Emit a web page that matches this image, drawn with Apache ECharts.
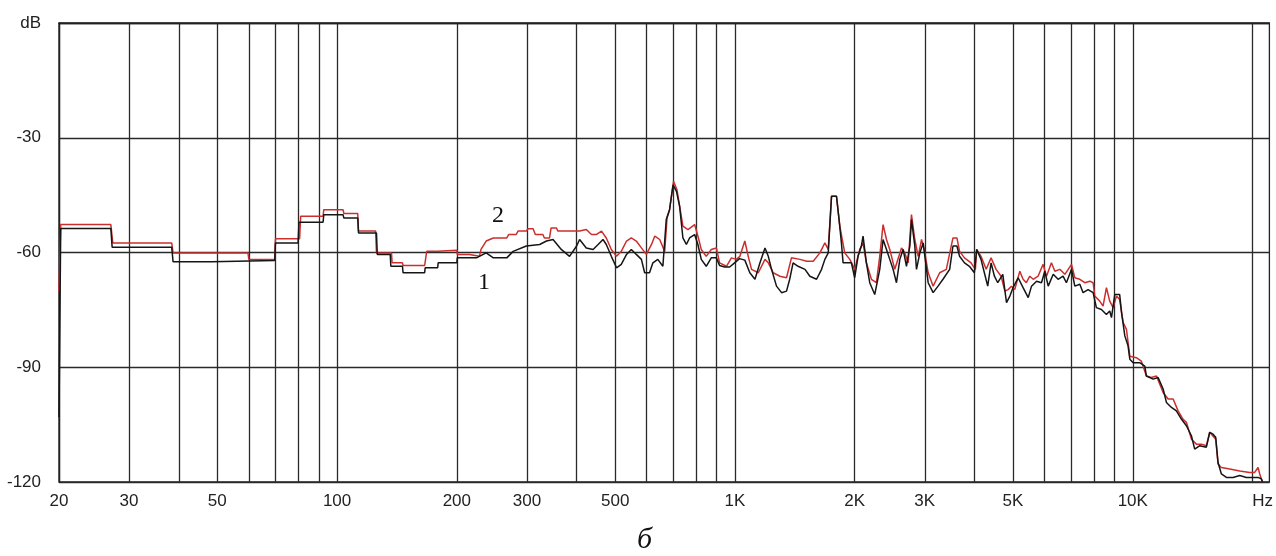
<!DOCTYPE html>
<html><head><meta charset="utf-8">
<script src="https://cdn.jsdelivr.net/npm/echarts@6/dist/echarts.min.js"></script>
<style>html,body{margin:0;padding:0;background:#fff}#c{width:1276px;height:556px}</style>
</head><body><div id="c"></div><script>
// grid-line frequencies (Hz)
const gridFreqs = [20,30,40,50,60,70,80,90,100,200,300,400,500,600,700,800,900,1000,2000,3000,4000,5000,6000,7000,8000,9000,10000,20000];
// labelled frequencies and their texts (last one carries the unit)
const labelFreqs = [20,30,50,100,200,300,500,1000,2000,3000,5000,10000,21200];
const labelTexts = ['20','30','50','100','200','300','500','1K','2K','3K','5K','10K','Hz'];
// y axis
const yMin = -120, yMax = 0, yStep = 30;
// curve 1 (black): [Hz, dB]
const curve1 = [
[20,-103],[20.2,-53.7],[27,-53.7],[27.2,-58.6],[38.4,-58.6],[38.7,-62.4],[48.3,-62.4],[48.6,-62.1],[69.7,-62.1],[70,-57.5],
[79.8,-57.5],[80.2,-52.1],[92.2,-52.1],[92.6,-50.1],[103.5,-50.1],[104,-51.0],[112.7,-51.0],[113.2,-54.9],[125.6,-54.9],[126.2,-60.5],
[136,-60.5],[136.5,-63.6],[146,-63.6],[146.5,-65.3],[166,-65.3],[166.5,-64.0],[179,-64.0],[179.5,-62.7],[200,-62.7],[200.5,-61.4],
[224,-61.4],[237,-60.1],[247,-61.4],[267,-61.4],[277,-59.7],[299,-58.3],[323,-57.9],[336,-57.0],[349,-56.6],[366,-59.2],
[384,-61.0],[400,-58.3],[407,-56.6],[423,-58.8],[440,-59.2],[453,-57.9],[466,-56.6],[475,-57.9],[489,-61.0],[504,-64.0],
[518,-63.1],[534,-60.5],[549,-59.2],[565,-60.5],[582,-61.8],[593,-65.3],[610,-65.3],[622,-62.7],[640,-61.8],[659,-63.6],
[672,-51.4],[685,-48.8],[699,-42.3],[713,-44.0],[726,-47.9],[740,-56.2],[755,-57.9],[769,-56.2],[792,-55.3],[807,-57.9],
[823,-61.8],[847,-63.6],[872,-61.4],[898,-61.4],[915,-63.4],[942,-63.8],[970,-63.8],[998,-62.7],[1027,-61.6],[1059,-62.0],
[1090,-65.3],[1123,-67.0],[1156,-62.7],[1190,-58.8],[1213,-61.0],[1236,-64.4],[1272,-68.8],[1310,-70.5],[1348,-70.1],[1373,-67.0],
[1400,-62.7],[1441,-63.6],[1500,-64.4],[1543,-66.2],[1604,-67.0],[1651,-64.4],[1683,-61.8],[1716,-60.1],[1749,-45.3],[1800,-45.3],
[1827,-51.4],[1852,-57.5],[1870,-62.7],[1962,-62.7],[2000,-66.6],[2039,-61.0],[2079,-58.3],[2099,-55.7],[2140,-62.7],[2182,-67.9],
[2246,-71.0],[2268,-71.0],[2312,-64.4],[2357,-56.6],[2404,-59.2],[2450,-61.8],[2498,-64.4],[2547,-67.9],[2597,-61.8],[2647,-59.2],
[2699,-63.6],[2752,-58.3],[2778,-51.4],[2832,-58.3],[2860,-64.4],[2916,-60.1],[2973,-57.5],[3002,-61.0],[3060,-67.9],[3149,-70.5],
[3240,-68.8],[3334,-67.0],[3465,-64.4],[3532,-58.3],[3614,-58.3],[3670,-61.0],[3776,-62.7],[3885,-63.6],[3998,-65.3],[4052,-59.2],
[4155,-61.8],[4236,-65.3],[4319,-68.8],[4404,-62.7],[4490,-66.2],[4577,-67.9],[4713,-65.7],[4815,-73.1],[4910,-71.4],[5000,-69.2],
[5150,-66.6],[5300,-69.2],[5460,-71.8],[5565,-68.8],[5730,-67.5],[5895,-67.9],[6010,-64.9],[6130,-68.8],[6310,-65.7],[6490,-67.0],
[6680,-66.2],[6810,-67.9],[7015,-64.4],[7150,-68.8],[7360,-68.3],[7500,-70.5],[7720,-69.7],[7950,-70.5],[8100,-74.4],[8340,-74.9],
[8585,-76.2],[8750,-75.3],[8840,-77.0],[9010,-71.0],[9270,-71.0],[9370,-75.7],[9550,-81.8],[9730,-84.4],[9830,-87.9],[10020,-88.8],
[10410,-88.8],[10720,-89.7],[10820,-92.3],[11250,-93.1],[11580,-92.7],[11920,-95.7],[12150,-99.2],[12510,-100.5],[12870,-101.4],[13260,-103.6],
[13640,-105.3],[14040,-107.9],[14310,-111.4],[14740,-110.5],[15310,-110.9],[15610,-107.0],[15910,-107.5],[16160,-108.3],[16380,-114.9],[16700,-117.9],
[17190,-118.8],[17870,-118.8],[18570,-118.3],[19300,-118.8],[20060,-118.8],[20650,-118.8],[21050,-119.2],[21200,-120]
];
// curve 2 (red): [Hz, dB]
const curve2 = [
[20,-70.1],[20.2,-52.7],[27,-52.7],[27.3,-57.5],[38.4,-57.5],[38.7,-60.1],[59.7,-60.1],[60,-61.8],[69.7,-61.8],[70,-56.4],
[80.5,-56.4],[81,-50.5],[92.2,-50.5],[92.6,-48.8],[103.5,-48.8],[104,-49.8],[112.7,-49.8],[113.2,-54.4],[125,-54.4],[125.6,-60.1],
[137,-60.1],[137.5,-62.7],[146,-62.7],[146.5,-63.4],[166,-63.4],[168,-59.7],[179,-59.7],[179.5,-59.4],[200,-59.4],[200.5,-60.5],
[215,-60.5],[216,-61.0],[228,-61.0],[230,-59.2],[237,-57.0],[247,-56.2],[267,-56.2],[270,-55.3],[282,-55.3],[285,-54.4],
[299,-54.4],[302,-53.8],[311,-53.8],[315,-55.3],[329,-55.3],[332,-56.2],[342,-56.2],[345,-53.6],[356,-53.6],[359,-54.4],
[384,-54.4],[387,-54.0],[407,-54.4],[423,-54.0],[436,-55.3],[448,-55.3],[462,-54.4],[475,-56.2],[489,-59.2],[504,-61.0],
[518,-59.7],[534,-57.0],[549,-56.2],[565,-57.0],[582,-58.8],[599,-60.5],[617,-57.9],[629,-55.7],[647,-56.6],[666,-59.7],
[675,-51.0],[685,-48.8],[701,-41.4],[715,-43.6],[726,-47.9],[740,-53.1],[762,-54.0],[792,-52.7],[807,-55.7],[823,-59.2],
[847,-61.0],[872,-59.2],[898,-58.8],[915,-62.7],[952,-63.6],[980,-61.4],[1008,-61.8],[1029,-61.0],[1059,-57.0],[1080,-61.0],
[1101,-64.4],[1145,-65.3],[1190,-61.8],[1213,-62.7],[1248,-65.3],[1297,-66.2],[1348,-66.6],[1387,-61.4],[1457,-61.8],[1514,-62.3],
[1573,-62.3],[1635,-60.1],[1683,-57.5],[1716,-59.2],[1749,-45.3],[1800,-45.3],[1835,-53.1],[1888,-60.1],[1944,-61.8],[2000,-64.4],
[2059,-59.2],[2099,-57.5],[2140,-62.7],[2203,-67.0],[2268,-67.9],[2312,-61.0],[2357,-52.7],[2404,-56.6],[2450,-59.2],[2522,-64.4],
[2622,-58.8],[2673,-60.1],[2725,-62.7],[2778,-50.1],[2832,-56.6],[2888,-61.0],[2945,-56.6],[3002,-60.1],[3060,-65.3],[3149,-68.8],
[3271,-65.3],[3399,-64.4],[3532,-56.2],[3614,-56.2],[3670,-59.7],[3776,-61.4],[3922,-62.7],[4021,-64.4],[4052,-59.2],[4155,-61.0],
[4281,-64.4],[4404,-61.4],[4534,-64.4],[4667,-66.2],[4770,-70.1],[4860,-69.7],[4955,-68.8],[5050,-69.7],[5200,-64.9],[5300,-67.0],
[5400,-67.9],[5510,-66.2],[5620,-67.0],[5780,-66.2],[5950,-63.1],[6070,-66.2],[6245,-62.7],[6370,-64.9],[6555,-64.4],[6750,-65.7],
[7015,-63.1],[7150,-66.6],[7360,-67.0],[7575,-67.9],[7800,-67.5],[7950,-67.9],[8025,-71.4],[8260,-72.7],[8420,-74.0],[8585,-69.2],
[8750,-72.7],[8925,-74.4],[9100,-71.4],[9270,-72.3],[9460,-78.3],[9640,-80.1],[9830,-87.1],[10210,-87.5],[10510,-88.4],[10820,-92.3],
[11140,-92.7],[11470,-92.3],[11920,-96.6],[12270,-98.3],[12630,-98.3],[13000,-101.4],[13380,-103.6],[13640,-104.4],[14040,-108.8],[14450,-110.1],
[14880,-110.1],[15310,-110.5],[15610,-107.0],[16160,-108.8],[16380,-115.3],[16700,-116.2],[17530,-116.6],[18570,-117.1],[19680,-117.5],[20250,-117.5],
[20650,-116.2],[20850,-117.9],[21050,-119.2],[21200,-120]
];
const curveNames = ['1','2'];
const notes = ['2','1','б'];

const chart = echarts.init(document.getElementById('c'), null, {renderer:'canvas'});
const FONT = '"Liberation Sans", Arial, sans-serif';
function labelFor(v){
  for (let i=0;i<labelFreqs.length;i++){ if (Math.abs(v-labelFreqs[i])/labelFreqs[i] < 0.005) return labelTexts[i]; }
  return '';
}
chart.setOption({
  animation:false,
  backgroundColor:'#fff',
  grid:{left:59,right:5,top:23,bottom:74,show:true,borderColor:'#222',borderWidth:1.3,backgroundColor:'transparent'},
  xAxis:{type:'log',logBase:10,min:20,max:22050,
    axisLine:{show:true,lineStyle:{color:'#222',width:1.3}},
    axisTick:{show:false,customValues:gridFreqs},
    splitLine:{show:true,lineStyle:{color:'#2a2a2a',width:1.3}},
    axisLabel:{customValues:labelFreqs,formatter:labelFor,fontSize:17,color:'#222',fontFamily:FONT,margin:11,showMinLabel:true,showMaxLabel:true,hideOverlap:false}
  },
  yAxis:{type:'value',min:yMin,max:yMax,interval:yStep,
    axisLine:{show:true,lineStyle:{color:'#222',width:1.3}},
    axisTick:{show:false},
    splitLine:{show:true,lineStyle:{color:'#2a2a2a',width:1.3}},
    axisLabel:{formatter:v=> v===0?'dB':String(v),fontSize:17,color:'#222',fontFamily:FONT,margin:18}
  },
  series:[
    {name:curveNames[1],type:'line',data:curve2,symbol:'none',lineStyle:{color:'#cc2e2e',width:1.5},z:3},
    {name:curveNames[0],type:'line',data:curve1,symbol:'none',lineStyle:{color:'#151515',width:1.5},z:4}
  ],
  graphic:[
    {type:'text',left:492,top:204,style:{text:notes[0],font:'24px "Liberation Serif", "Times New Roman", serif',fill:'#111'}},
    {type:'text',left:478,top:271,style:{text:notes[1],font:'24px "Liberation Serif", "Times New Roman", serif',fill:'#111'}},
    {type:'text',left:637,top:525,style:{text:notes[2],font:'italic 30px "Liberation Serif", "Times New Roman", serif',fill:'#111'}}
  ]
});
</script></body></html>
